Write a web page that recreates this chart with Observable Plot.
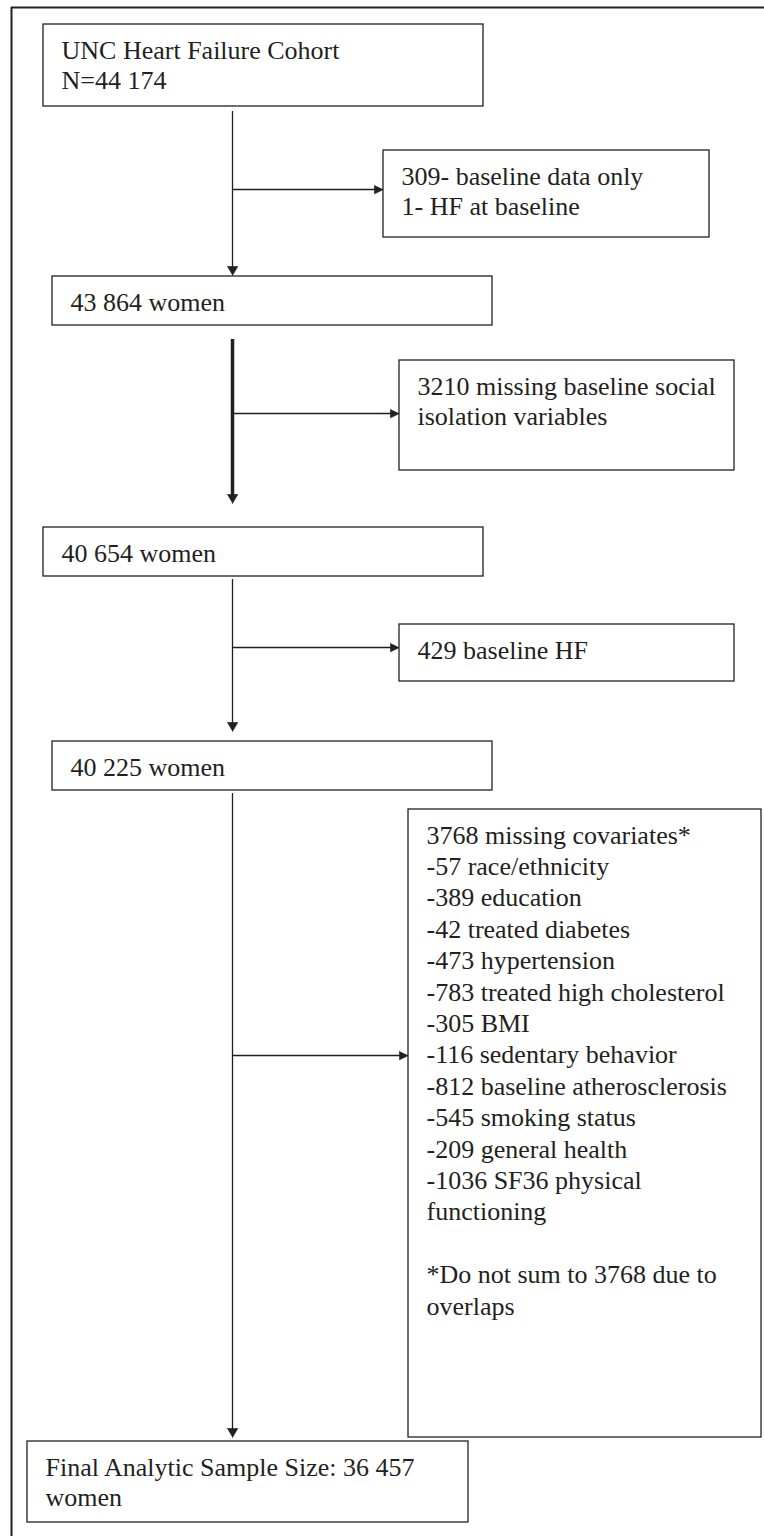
<!DOCTYPE html>
<html>
<head>
<meta charset="utf-8">
<script src="https://cdn.jsdelivr.net/npm/d3@7"></script>
<script src="https://cdn.jsdelivr.net/npm/@observablehq/plot@0.6"></script>
<style>
  html, body { margin: 0; padding: 0; background: #fff; }
  #chart svg { display: block; }
  #chart svg text { font-family: "Liberation Serif", "Times New Roman", serif !important; }
</style>
</head>
<body>
<div id="chart"></div>
<script>
// ---- Content (text of the flow chart) ----
const mainSteps = [
  "UNC Heart Failure Cohort\nN=44 174",
  "43 864 women",
  "40 654 women",
  "40 225 women",
  "Final Analytic Sample Size: 36 457\nwomen"
];
const exclusions = [
  "309- baseline data only\n1- HF at baseline",
  "3210 missing baseline social\nisolation variables",
  "429 baseline HF",
  "3768 missing covariates*\n-57 race/ethnicity\n-389 education\n-42 treated diabetes\n-473 hypertension\n-783 treated high cholesterol\n-305 BMI\n-116 sedentary behavior\n-812 baseline atherosclerosis\n-545 smoking status\n-209 general health\n-1036 SF36 physical\nfunctioning\n\n*Do not sum to 3768 due to\noverlaps"
];

// ---- Layout (pixel geometry of the boxes and connectors) ----
const mainLayout = [
  {x1: 43, x2: 483, y1: 24,   y2: 106},
  {x1: 52, x2: 492, y1: 276,  y2: 325},
  {x1: 43, x2: 483, y1: 527,  y2: 576},
  {x1: 52, x2: 492, y1: 741,  y2: 790},
  {x1: 27, x2: 468, y1: 1441, y2: 1522}
];
const sideLayout = [
  {x1: 383, x2: 709, y1: 150, y2: 237},
  {x1: 399, x2: 734, y1: 360, y2: 470},
  {x1: 399, x2: 734, y1: 624, y2: 681},
  {x1: 408, x2: 761, y1: 809, y2: 1437}
];
const trunkX = 232;
const trunkLayout = [
  {y1: 111, y2: 275,  w: 1.3, branchY: 189},
  {y1: 339, y2: 503,  w: 3.5, branchY: 413},
  {y1: 579, y2: 731,  w: 1.3, branchY: 647},
  {y1: 793, y2: 1437, w: 1.3, branchY: 1055}
];

const W = 764, H = 1536;
const ink = "#231f20";
const serif = "'Liberation Serif', 'Times New Roman', serif";

const boxes = [
  ...mainLayout.map((b, i) => ({...b, text: mainSteps[i], lh: 30})),
  ...sideLayout.map((b, i) => ({...b, text: exclusions[i], lh: i === 3 ? 31.4 : 30}))
];
const textLines = boxes.flatMap(b =>
  b.text.split("\n").map((t, i) => ({x: b.x1 + 18, y: b.y1 + 34 + i * b.lh, t}))
);

const HEAD = 9;
const trunks = trunkLayout.map(d => ({x: trunkX, y1: d.y1, y2: d.y2 - HEAD + 1, w: d.w}));
const branches = trunkLayout.map((d, i) => ({y: d.branchY, x1: trunkX, x2: sideLayout[i].x1 - HEAD + 1}));

const heads = [];
trunkLayout.forEach((d, i) => {
  const tip = d.y2;
  heads.push({id: "v" + i, x: trunkX - 5.3, y: tip - HEAD});
  heads.push({id: "v" + i, x: trunkX + 5.3, y: tip - HEAD});
  heads.push({id: "v" + i, x: trunkX, y: tip});
  const tx = sideLayout[i].x1, by = d.branchY;
  heads.push({id: "h" + i, x: tx - HEAD, y: by - 4.3});
  heads.push({id: "h" + i, x: tx - HEAD, y: by + 4.3});
  heads.push({id: "h" + i, x: tx, y: by});
});

const chart = Plot.plot({
  width: W,
  height: H,
  margin: 0,
  x: {domain: [0, W], range: [0, W], axis: null},
  y: {domain: [0, H], range: [0, H], axis: null},
  style: {fontFamily: serif, background: "white", color: ink},
  marks: [
    // outer frame (top and left edges)
    Plot.ruleX([11], {y1: 7, y2: H, stroke: ink, strokeWidth: 2}),
    Plot.ruleY([7], {x1: 11, x2: W, stroke: ink, strokeWidth: 2}),
    // connectors
    Plot.ruleX(trunks, {x: "x", y1: "y1", y2: "y2", stroke: ink, strokeWidth: "w"}),
    Plot.ruleY(branches, {y: "y", x1: "x1", x2: "x2", stroke: ink, strokeWidth: 1.3}),
    Plot.line(heads, {x: "x", y: "y", z: "id", fill: ink, stroke: ink, strokeWidth: 0.6}),
    // boxes
    Plot.rect(boxes, {x1: "x1", x2: "x2", y1: "y1", y2: "y2", fill: "white", stroke: ink, strokeWidth: 1.3}),
    // labels
    Plot.text(textLines, {x: "x", y: "y", text: "t", textAnchor: "start", lineAnchor: "bottom",
      fontSize: 26, fontFamily: serif, fill: ink})
  ]
});
document.getElementById("chart").appendChild(chart);
</script>
</body>
</html>
